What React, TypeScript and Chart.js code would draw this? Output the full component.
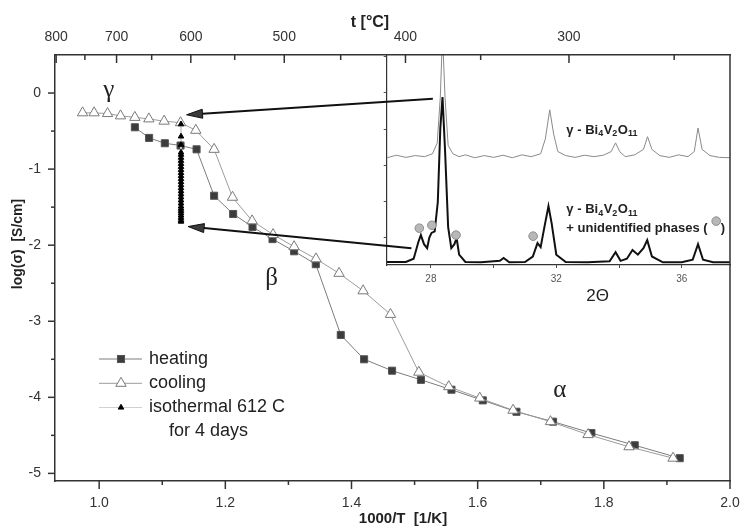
import React, { useEffect, useRef } from 'react';
import { Chart, registerables } from 'chart.js';

Chart.register(...registerables);

// ---------------- main chart data ----------------
const heatingInvT = [1.0566, 1.0792, 1.1041, 1.129, 1.1544, 1.1822, 1.2124, 1.2431, 1.2748, 1.309, 1.3434, 1.383, 1.42, 1.4643, 1.5101, 1.5585, 1.6081, 1.6615, 1.7195, 1.7803, 1.849, 1.9203];
const heatingLogSigma = [-0.45, -0.59, -0.66, -0.69, -0.74, -1.35, -1.59, -1.76, -1.92, -2.08, -2.25, -3.18, -3.5, -3.65, -3.77, -3.9, -4.04, -4.19, -4.32, -4.47, -4.63, -4.8];
const coolingInvT = [0.9737, 0.992, 1.0133, 1.0339, 1.0566, 1.0788, 1.103, 1.129, 1.1532, 1.1822, 1.2114, 1.2425, 1.2757, 1.309, 1.3437, 1.3803, 1.4184, 1.4618, 1.5067, 1.5542, 1.6033, 1.6561, 1.7154, 1.775, 1.8399, 1.9097];
const coolingLogSigma = [-0.26, -0.26, -0.27, -0.3, -0.32, -0.34, -0.37, -0.39, -0.49, -0.74, -1.37, -1.68, -1.86, -2.02, -2.18, -2.37, -2.6, -2.91, -3.67, -3.86, -4.01, -4.17, -4.32, -4.49, -4.65, -4.8];
const isothermalTempC = 612;
const isothermalLogSigma = [-0.41, -0.57, -0.68, -0.78, -0.81, -0.85, -0.89, -0.93, -0.97, -1.01, -1.05, -1.09, -1.13, -1.17, -1.21, -1.25, -1.29, -1.33, -1.37, -1.41, -1.45, -1.49, -1.52, -1.55, -1.58, -1.61, -1.64, -1.67, -1.69];

const seriesLabels = ['heating', 'cooling', 'isothermal 612 C', 'for 4 days'];

const xTickValues = [1.0, 1.1, 1.2, 1.3, 1.4, 1.5, 1.6, 1.7, 1.8, 1.9, 2.0];
const yTickValues = [-5, -4.5, -4, -3.5, -3, -2.5, -2, -1.5, -1, -0.5, 0];
const topTicksC = [800, 750, 700, 650, 600, 550, 500, 450, 400, 350, 300, 250];

const phaseLabels = ['γ', 'β', 'α'];
const phaseInvT = [1.0154, 1.2733, 1.7302];
const phaseLogSigma = [0.03, -2.443, -3.904];

// arrows (tail inside the XRD inset -> tip at the isothermal column), in data units
const arrowTailInvT = [1.529, 1.495];
const arrowTailLogSigma = [-0.075, -2.04];
const arrowTipInvT = [1.1385, 1.141];
const arrowTipLogSigma = [-0.286, -1.755];

// ---------------- inset (XRD) data ----------------
const pureTwoTheta = [26.6, 26.9, 27.2, 27.5, 27.8, 28.05, 28.2, 28.3, 28.37, 28.45, 28.55, 28.7, 28.9, 29.1, 29.4, 29.7, 30.0, 30.3, 30.6, 30.9, 31.2, 31.5, 31.65, 31.79, 31.92, 32.05, 32.3, 32.6, 32.9, 33.2, 33.5, 33.75, 33.89, 34.02, 34.2, 34.5, 34.78, 34.91, 35.05, 35.3, 35.6, 35.9, 36.2, 36.4, 36.52, 36.65, 36.9, 37.2, 37.54];
const pureIntensity = [2.21, 2.28, 2.22, 2.27, 2.24, 2.32, 2.61, 3.88, 5.62, 3.88, 2.55, 2.32, 2.24, 2.29, 2.21, 2.27, 2.22, 2.28, 2.21, 2.29, 2.24, 2.32, 2.73, 3.53, 2.84, 2.38, 2.27, 2.22, 2.28, 2.24, 2.28, 2.38, 2.62, 2.38, 2.24, 2.29, 2.44, 2.79, 2.44, 2.27, 2.22, 2.29, 2.24, 2.38, 3.03, 2.44, 2.27, 2.22, 2.21];
const mixTwoTheta = [26.6, 27.2, 27.45, 27.6, 27.68, 27.78, 27.88, 27.95, 28.02, 28.12, 28.22, 28.3, 28.37, 28.45, 28.55, 28.65, 28.75, 28.82, 28.9, 29.1, 29.6, 30.2, 30.32, 30.5, 31.0, 31.25, 31.4, 31.5, 31.62, 31.75, 31.85, 32.0, 32.3, 33.0, 33.7, 33.89, 34.05, 34.25, 34.43, 34.6, 34.78, 34.9, 35.05, 35.4, 36.0, 36.35, 36.52, 36.68, 37.0, 37.54];
const mixIntensity = [-0.66, -0.66, -0.57, -0.11, 0.08, -0.17, -0.28, 0.01, 0.14, 0.18, 0.99, 3.02, 3.88, 2.44, 0.3, -0.28, -0.17, 0.0, -0.46, -0.66, -0.67, -0.63, -0.55, -0.67, -0.66, -0.51, -0.14, -0.25, 0.3, 0.88, 0.41, -0.46, -0.66, -0.67, -0.64, -0.39, -0.63, -0.57, -0.33, -0.46, -0.28, -0.06, -0.51, -0.67, -0.67, -0.6, -0.17, -0.6, -0.67, -0.67];
const phaseMarkTwoTheta = [27.63, 28.03, 28.8, 31.26, 37.1];
const phaseMarkIntensity = [0.27, 0.35, 0.08, 0.05, 0.465];
const insetXTicks = [28, 30, 32, 34, 36];
const insetXLabelled = [28, 32, 36];
const insetYTicks = [0, 1, 2, 3, 4, 5];

const SANS = '"Liberation Sans", Arial, Helvetica, sans-serif';
const SERIF = '"Liberation Serif", "Times New Roman", serif';
const AXIS = '#333';
const TEXT = '#222';

const pts = (xs: number[], ys: number[]) => ys.map((v, i) => ({ x: xs[i], y: v }));

function line(ctx: CanvasRenderingContext2D, x1: number, y1: number, x2: number, y2: number) {
  ctx.beginPath();
  ctx.moveTo(x1, y1);
  ctx.lineTo(x2, y2);
  ctx.stroke();
}

function drawTri(ctx: CanvasRenderingContext2D, x: number, y: number, r: number, fill: string, stroke: string) {
  const w = r * Math.sin(Math.PI / 3);
  ctx.beginPath();
  ctx.moveTo(x, y - r);
  ctx.lineTo(x + w, y + r / 2);
  ctx.lineTo(x - w, y + r / 2);
  ctx.closePath();
  ctx.fillStyle = fill;
  ctx.fill();
  ctx.strokeStyle = stroke;
  ctx.lineWidth = 1;
  ctx.stroke();
}

const noSidePadding = (s: any) => {
  s.paddingLeft = 0;
  s.paddingRight = 0;
};

const mainDecor = {
  id: 'mainDecor',
  afterDraw(chart: any) {
    const { ctx, chartArea: ca, scales } = chart;
    const sx = scales.x, st = scales.xt, sy = scales.y;
    ctx.save();
    ctx.strokeStyle = AXIS;
    ctx.lineWidth = 1.5;
    // right frame line
    line(ctx, ca.right, ca.top, ca.right, ca.bottom);
    // bottom ticks (outside)
    sx.ticks.forEach((t: any) => {
      const px = sx.getPixelForValue(t.value);
      line(ctx, px, ca.bottom, px, ca.bottom + (t.label ? 8 : 4));
    });
    // top ticks (inside)
    st.ticks.forEach((t: any) => {
      const px = st.getPixelForValue(t.value);
      line(ctx, px, ca.top, px, ca.top + (t.label ? 8 : 5));
    });
    // left ticks (outside)
    sy.ticks.forEach((t: any) => {
      const py = sy.getPixelForValue(t.value);
      line(ctx, ca.left - (t.label ? 7 : 4), py, ca.left, py);
    });

    // axis titles
    ctx.fillStyle = TEXT;
    ctx.textAlign = 'center';
    ctx.textBaseline = 'middle';
    ctx.font = `bold 16px ${SANS}`;
    ctx.fillText('t [°C]', 370, 23);
    ctx.font = `bold 15px ${SANS}`;
    ctx.fillText('1000/T  [1/K]', 403, 519);
    ctx.save();
    ctx.translate(18, 244);
    ctx.rotate(-Math.PI / 2);
    ctx.font = `bold 14px ${SANS}`;
    ctx.fillText('log(σ)  [S/cm]', 0, 0);
    ctx.restore();

    // phase labels
    ctx.font = `25px ${SERIF}`;
    phaseLabels.forEach((s, i) => {
      ctx.fillText(s, sx.getPixelForValue(phaseInvT[i]), sy.getPixelForValue(phaseLogSigma[i]));
    });

    // arrows
    arrowTailInvT.forEach((_, i) => {
      const x0 = sx.getPixelForValue(arrowTailInvT[i]);
      const y0 = sy.getPixelForValue(arrowTailLogSigma[i]);
      const x1 = sx.getPixelForValue(arrowTipInvT[i]);
      const y1 = sy.getPixelForValue(arrowTipLogSigma[i]);
      const ang = Math.atan2(y1 - y0, x1 - x0);
      const L = 16, W = 4.5;
      const bx = x1 - L * Math.cos(ang), by = y1 - L * Math.sin(ang);
      ctx.strokeStyle = '#111';
      ctx.lineWidth = 2;
      line(ctx, x0, y0, bx, by);
      ctx.beginPath();
      ctx.moveTo(x1, y1);
      ctx.lineTo(bx + W * Math.sin(ang), by - W * Math.cos(ang));
      ctx.lineTo(bx - W * Math.sin(ang), by + W * Math.cos(ang));
      ctx.closePath();
      ctx.fillStyle = '#3a3a3a';
      ctx.fill();
      ctx.lineWidth = 1;
      ctx.stroke();
    });

    // legend
    const ds = chart.data.datasets;
    const rows = [359, 383.3, 407.5];
    const lx0 = 99, lx1 = 142, mx = 121, tx = 149;
    ctx.textAlign = 'left';
    ctx.font = `18px ${SANS}`;
    rows.forEach((ry, i) => {
      const d = ds[i];
      ctx.strokeStyle = d.borderColor;
      ctx.lineWidth = 1;
      line(ctx, lx0, ry, lx1, ry);
      if (d.pointStyle === 'rect') {
        const h = d.pointRadius * Math.SQRT1_2;
        ctx.fillStyle = d.pointBackgroundColor;
        ctx.fillRect(mx - h, ry - h, 2 * h, 2 * h);
        ctx.strokeStyle = d.pointBorderColor;
        ctx.strokeRect(mx - h, ry - h, 2 * h, 2 * h);
      } else {
        drawTri(ctx, mx, ry, Math.min(d.pointRadius, 6), d.pointBackgroundColor, d.pointBorderColor);
      }
      ctx.fillStyle = TEXT;
      ctx.fillText(seriesLabels[i], tx, ry);
    });
    ctx.fillText(seriesLabels[3], 169, 431);
    ctx.restore();
  },
};

function subFormula(ctx: CanvasRenderingContext2D, x: number, y: number) {
  const parts: [string, boolean][] = [['γ - Bi', false], ['4', true], ['V', false], ['2', true], ['O', false], ['11', true]];
  let cx = x;
  for (const [s, sub] of parts) {
    ctx.font = sub ? `bold 9px ${SANS}` : `bold 13px ${SANS}`;
    ctx.fillText(s, cx, sub ? y + 4 : y);
    cx += ctx.measureText(s).width + (sub ? 0.5 : 0);
  }
}

const insetDecor = {
  id: 'insetDecor',
  afterDraw(chart: any) {
    const { ctx, chartArea: ca, scales } = chart;
    const sx = scales.x, sy = scales.y;
    ctx.save();
    ctx.fillStyle = TEXT;
    ctx.textAlign = 'left';
    ctx.textBaseline = 'middle';
    const tx = sx.getPixelForValue(32.32);
    subFormula(ctx, tx, sy.getPixelForValue(2.975));
    subFormula(ctx, tx, sy.getPixelForValue(0.79));
    ctx.font = `bold 13px ${SANS}`;
    const y3 = sy.getPixelForValue(0.267);
    ctx.fillText('+ unidentified phases (', tx, y3);
    const mLast = phaseMarkTwoTheta.length - 1;
    ctx.fillText(')', sx.getPixelForValue(phaseMarkTwoTheta[mLast]) + 4.5, y3);
    ctx.textAlign = 'center';
    ctx.font = `17px ${SANS}`;
    ctx.fillText('2Θ', sx.getPixelForValue(33.32), ca.bottom + 31);
    ctx.restore();
  },
};

export default function App() {
  const mainRef = useRef<HTMLCanvasElement>(null);
  const insetRef = useRef<HTMLCanvasElement>(null);

  useEffect(() => {
    const tickFont = { family: SANS, size: 14 };
    const axisCommon = {
      type: 'linear' as const,
      bounds: 'data' as const,
      grid: { drawOnChartArea: false, drawTicks: false },
      border: { display: true, color: AXIS, width: 1.5 },
    };
    const main = new Chart(mainRef.current as HTMLCanvasElement, {
      type: 'line',
      data: {
        datasets: [
          {
            label: seriesLabels[0],
            data: pts(heatingInvT, heatingLogSigma),
            borderColor: '#7c7c7c',
            borderWidth: 1,
            pointStyle: 'rect',
            pointRadius: 5,
            pointBackgroundColor: '#3c3c3c',
            pointBorderColor: '#555',
            pointBorderWidth: 1,
            order: 2,
          },
          {
            label: seriesLabels[1],
            data: pts(coolingInvT, coolingLogSigma),
            borderColor: '#9c9c9c',
            borderWidth: 1,
            pointStyle: 'triangle',
            pointRadius: 6,
            pointBackgroundColor: '#ffffff',
            pointBorderColor: '#7a7a7a',
            pointBorderWidth: 1,
            order: 1,
          },
          {
            label: seriesLabels[2],
            data: isothermalLogSigma.map((v) => ({ x: 1000 / (isothermalTempC + 273.15), y: v })),
            borderColor: '#d0d0d0',
            borderWidth: 1,
            pointStyle: 'triangle',
            pointRadius: 3.2,
            pointBackgroundColor: '#000',
            pointBorderColor: '#000',
            pointBorderWidth: 1,
            order: 0,
          },
        ] as any,
      },
      options: {
        responsive: false,
        animation: false,
        devicePixelRatio: 1,
        events: [],
        layout: { padding: { left: 0, right: 13, top: 0, bottom: 0 } },
        plugins: { legend: { display: false }, tooltip: { enabled: false }, title: { display: false } },
        scales: {
          x: {
            ...axisCommon,
            position: 'bottom',
            min: 0.93,
            max: 2.0,
            afterBuildTicks: (s: any) => { s.ticks = xTickValues.map((v) => ({ value: v })); },
            afterFit: (s: any) => { s.height = 46; noSidePadding(s); },
            ticks: {
              autoSkip: false, maxRotation: 0, padding: 14, color: AXIS, font: tickFont,
              callback: (v: any) => (Math.round(v * 10) % 2 === 0 ? Number(v).toFixed(1) : ''),
            },
          },
          xt: {
            ...axisCommon,
            position: 'top',
            min: 0.93,
            max: 2.0,
            afterBuildTicks: (s: any) => { s.ticks = topTicksC.map((t) => ({ value: 1000 / (t + 273.15) })); },
            afterFit: (s: any) => { s.height = 55; noSidePadding(s); },
            ticks: {
              autoSkip: false, maxRotation: 0, padding: 9, color: AXIS, font: tickFont,
              callback: (v: any) => {
                const t = Math.round(1000 / v - 273.15);
                return t % 100 === 0 ? String(t) : '';
              },
            },
          },
          y: {
            ...axisCommon,
            position: 'left',
            min: -5.1,
            max: 0.5,
            afterBuildTicks: (s: any) => { s.ticks = yTickValues.map((v) => ({ value: v })); },
            afterFit: (s: any) => { s.width = 55; s.paddingTop = 0; s.paddingBottom = 0; },
            ticks: {
              autoSkip: false, padding: 14, color: AXIS, font: tickFont,
              callback: (v: any) => (Number.isInteger(v) ? (v === 0 ? '0' : String(v)) : ''),
            },
          },
        },
      } as any,
      plugins: [mainDecor],
    });

    const inset = new Chart(insetRef.current as HTMLCanvasElement, {
      type: 'line',
      data: {
        datasets: [
          {
            data: pts(phaseMarkTwoTheta, phaseMarkIntensity),
            showLine: false,
            pointStyle: 'circle',
            pointRadius: 4.3,
            pointBackgroundColor: '#b8b8b8',
            pointBorderColor: '#8c8c8c',
            pointBorderWidth: 1,
            order: 0,
          },
          {
            data: pts(mixTwoTheta, mixIntensity),
            borderColor: '#111',
            borderWidth: 2,
            pointRadius: 0,
            order: 1,
          },
          {
            data: pts(pureTwoTheta, pureIntensity),
            borderColor: '#8a8a8a',
            borderWidth: 1,
            pointRadius: 0,
            order: 2,
          },
        ] as any,
      },
      options: {
        responsive: false,
        animation: false,
        devicePixelRatio: 1,
        events: [],
        layout: { padding: { left: 0, right: 13, top: 10, bottom: 0 } },
        plugins: { legend: { display: false }, tooltip: { enabled: false } },
        scales: {
          x: {
            type: 'linear',
            bounds: 'data',
            min: 26.59,
            max: 37.54,
            afterBuildTicks: (s: any) => { s.ticks = insetXTicks.map((v) => ({ value: v })); },
            afterFit: (s: any) => { s.height = 45; noSidePadding(s); },
            grid: { drawOnChartArea: false, drawTicks: true, tickLength: 3, color: '#444' },
            border: { display: true, color: AXIS, width: 1.2 },
            ticks: {
              autoSkip: false, maxRotation: 0, padding: 5, color: '#555',
              font: { family: SANS, size: 10 },
              callback: (v: any) => (insetXLabelled.includes(v) ? String(v) : ''),
            },
          },
          y: {
            type: 'linear',
            bounds: 'data',
            min: -0.744,
            max: 5.04,
            afterBuildTicks: (s: any) => { s.ticks = insetYTicks.map((v) => ({ value: v })); },
            afterFit: (s: any) => { s.width = 20.7; s.paddingTop = 0; s.paddingBottom = 0; },
            grid: { drawOnChartArea: false, drawTicks: true, tickLength: 3, color: '#555' },
            border: { display: true, color: AXIS, width: 1.2 },
            ticks: { display: false },
          },
        },
      } as any,
      plugins: [insetDecor],
    });

    return () => {
      main.destroy();
      inset.destroy();
    };
  }, []);

  return (
    <div style={{ position: 'absolute', left: 0, top: 0, width: 743, height: 527, background: '#fff' }}>
      <canvas
        ref={insetRef}
        width={377}
        height={265}
        style={{ position: 'absolute', left: 366, top: 45, width: 377, height: 265, zIndex: 0 }}
      />
      <canvas
        ref={mainRef}
        width={743}
        height={527}
        style={{ position: 'absolute', left: 0, top: 0, width: 743, height: 527, zIndex: 1 }}
      />
    </div>
  );
}
